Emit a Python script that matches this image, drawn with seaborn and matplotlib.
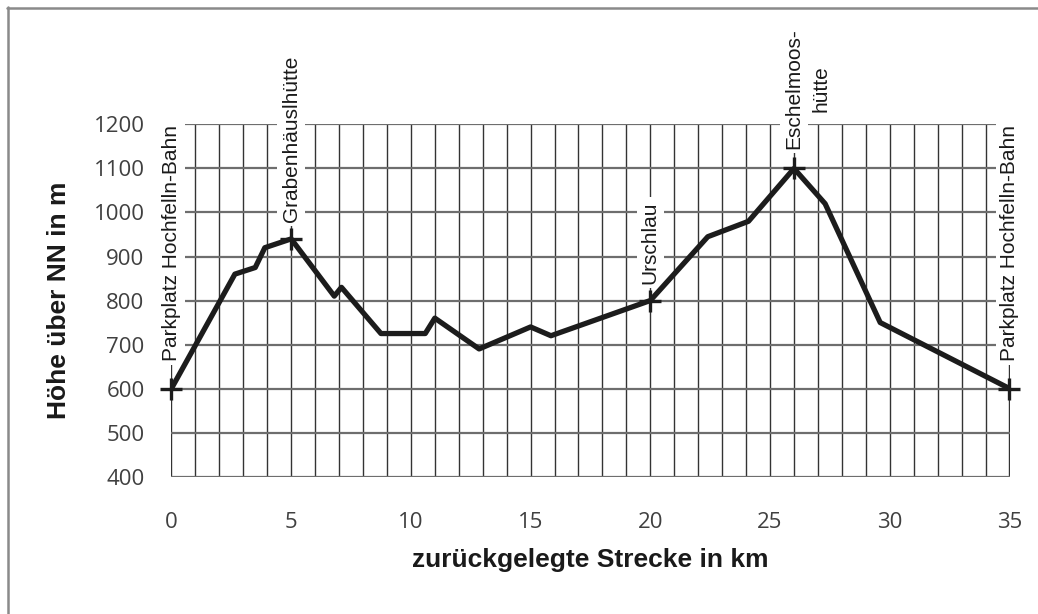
import matplotlib
matplotlib.use('Agg')
import matplotlib.pyplot as plt
from matplotlib.lines import Line2D
from matplotlib.ticker import MultipleLocator
import seaborn as sns
import pandas as pd

# route profile: distance (km) vs. elevation (m)
distance_km = [0, 2.65, 3.5, 3.9, 5, 6.8, 7.1, 8.75, 10.6, 11.0,
               12.85, 15.0, 15.85, 20, 22.4, 24.1, 26, 27.3, 29.6, 35]
elevation_m = [600, 860, 875, 920, 940, 810, 830, 725, 725, 760,
               690, 740, 720, 800, 945, 980, 1100, 1020, 750, 600]

# named stops along the route (index into the profile)
stop_index = [0, 4, 13, 16, 19]
stop_names = ['Parkplatz Hochfelln-Bahn', 'Grabenhäuslhütte', 'Urschlau',
              'Eschelmoos-\nhütte', 'Parkplatz Hochfelln-Bahn']
stop_lift = [20, 12, 12, 14, 20]  # gap between marker and label, points

x_ticks = [0, 5, 10, 15, 20, 25, 30, 35]
y_ticks = [400, 500, 600, 700, 800, 900, 1000, 1100, 1200]

df = pd.DataFrame({'km': distance_km, 'm': elevation_m})
stops = df.iloc[stop_index]

sns.set_style('white')
plt.rcParams['font.family'] = ['Liberation Sans', 'DejaVu Sans']

fig, ax = plt.subplots(figsize=(10.38, 6.14), dpi=100)
fig.subplots_adjust(left=0.1647, right=0.973, bottom=0.2231, top=0.798)

for s in ax.spines.values():
    s.set_visible(False)

ax.set_xlim(-0.02, 35.02)
ax.set_ylim(399, 1201)
ax.set_xticks(x_ticks)
ax.xaxis.set_minor_locator(MultipleLocator(1))
ax.set_yticks(y_ticks)

ax.grid(axis='x', which='both', color='#333333', lw=1.0)
ax.grid(axis='y', which='major', color='#6e6e6e', lw=1.6)
ax.set_axisbelow(True)
ax.tick_params(axis='x', which='both', length=6, width=1.0, color='#333333',
               pad=19, labelsize=16, labelcolor='#404040')
ax.tick_params(axis='y', which='major', length=6, width=1.6, color='#6e6e6e',
               pad=13, labelsize=16, labelcolor='#404040')
for lab in ax.get_xticklabels() + ax.get_yticklabels():
    lab.set_family(['Open Sans', 'DejaVu Sans'])

sns.lineplot(data=df, x='km', y='m', sort=False, color='#1c1c1c', lw=3.8,
             ax=ax, zorder=6)
sns.scatterplot(data=stops, x='km', y='m', marker='+', s=260, color='#1c1c1c',
                linewidth=2.4, ax=ax, zorder=7, clip_on=False)

# stop labels; extra lines of a label sit to the right of the first one
for (_, row), name, lift in zip(stops.iterrows(), stop_names, stop_lift):
    lines = name.split('\n')
    prev = ax.annotate(lines[0], (row['km'], row['m']), xytext=(0, lift),
                       textcoords='offset points', rotation=90, ha='center',
                       va='bottom', fontsize=15, color='#1a1a1a',
                       annotation_clip=False, zorder=5,
                       bbox=dict(boxstyle='square,pad=0.2', fc='white', ec='none'))
    for extra in lines[1:]:
        prev = ax.annotate(extra, (0.5, 0.5), xycoords=prev, xytext=(19.4, 0),
                           textcoords='offset points', rotation=90, ha='center',
                           va='center', fontsize=15, color='#1a1a1a',
                           annotation_clip=False, zorder=5)

ax.set_xlabel('zurückgelegte Strecke in km', fontsize=19, fontweight='bold',
              color='#1a1a1a', labelpad=11)
ax.set_ylabel('Höhe über NN in m', fontsize=19, fontweight='bold',
              color='#1a1a1a', labelpad=16)

# grey frame at top and left edge
fig.add_artist(Line2D([7 / 1038, 1], [1 - 8 / 614] * 2, color='#8a8a8a', lw=1.8))
fig.add_artist(Line2D([8 / 1038] * 2, [0, 1 - 7 / 614], color='#8a8a8a', lw=1.8))

fig.savefig('out.png', dpi=100)
